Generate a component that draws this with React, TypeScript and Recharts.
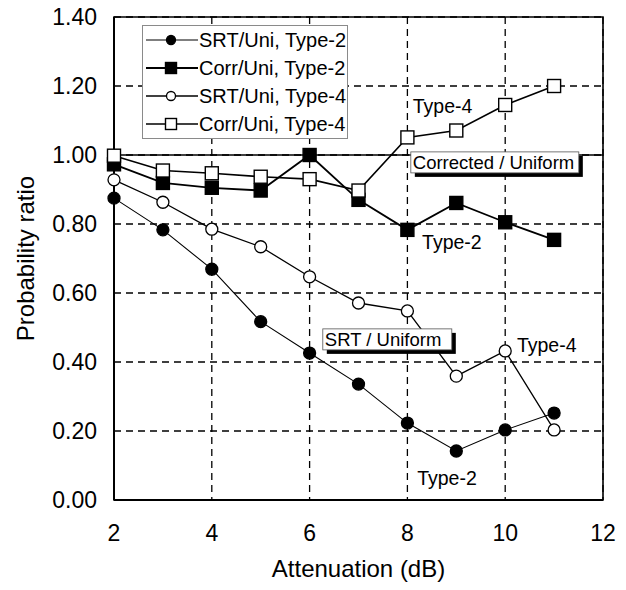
import { LineChart, Line, XAxis, YAxis, CartesianGrid, ReferenceLine, ReferenceArea, ReferenceDot, Legend } from 'recharts';

// values
const attenuation = [2, 3, 4, 5, 6, 7, 8, 9, 10, 11];
const srtType2 = [0.875, 0.783, 0.669, 0.517, 0.426, 0.336, 0.223, 0.142, 0.203, 0.252];
const corrType2 = [0.973, 0.919, 0.905, 0.897, 1.0, 0.87, 0.783, 0.861, 0.805, 0.754];
const srtType4 = [0.928, 0.863, 0.785, 0.734, 0.647, 0.571, 0.548, 0.359, 0.432, 0.203];
const corrType4 = [0.998, 0.955, 0.947, 0.937, 0.93, 0.897, 1.051, 1.071, 1.145, 1.2];

const xTicks = [2, 4, 6, 8, 10, 12];
const yTicks = [0, 0.2, 0.4, 0.6, 0.8, 1.0, 1.2, 1.4];

// free text labels, anchored at data coordinates
const noteText = ['Type-4', 'Type-2', 'Type-4', 'Type-2'];
const noteX = [8.11, 8.3, 10.24, 8.2];
const noteY = [1.142, 0.748, 0.449, 0.064];

// boxed labels with drop shadow (anchor = top-left corner)
const boxText = ['Corrected / Uniform', 'SRT / Uniform'];
const boxX = [8.07, 6.27];
const boxY = [1.009, 0.496];
const boxW = [168, 129];

const FONT = '"Liberation Sans", Arial, Helvetica, sans-serif';

const SERIES = [
  { key: 'srt2', name: 'SRT/Uni, Type-2', shape: 'circle', filled: true, width: 1.1 },
  { key: 'corr2', name: 'Corr/Uni, Type-2', shape: 'square', filled: true, width: 1.8 },
  { key: 'srt4', name: 'SRT/Uni, Type-4', shape: 'circle', filled: false, width: 1.3 },
  { key: 'corr4', name: 'Corr/Uni, Type-4', shape: 'square', filled: false, width: 1.6 },
];

const chartData = attenuation.map((x, i) => ({
  x,
  srt2: srtType2[i],
  corr2: corrType2[i],
  srt4: srtType4[i],
  corr4: corrType4[i],
}));

function Marker({ cx, cy, shape, filled, size }: any) {
  const fill = filled ? '#000' : '#fff';
  if (shape === 'circle') {
    return <circle cx={cx} cy={cy} r={size / 2} fill={fill} stroke="#000" strokeWidth={1.3} />;
  }
  return <rect x={cx - size / 2} y={cy - size / 2} width={size} height={size} fill={fill} stroke="#000" strokeWidth={1.4} />;
}

function makeDot(shape: string, filled: boolean) {
  const size = shape === 'circle' ? 12 : 13;
  return (props: any) => {
    const { cx, cy, index } = props;
    if (cx == null || cy == null) return <g key={index} />;
    return (
      <g key={index}>
        <Marker cx={cx} cy={cy} shape={shape} filled={filled} size={size} />
      </g>
    );
  };
}

function renderLegend() {
  return (
    <div
      style={{
        width: 206,
        border: '1px solid #8a8a8a',
        background: '#fff',
        fontFamily: FONT,
        fontSize: 20,
        boxSizing: 'border-box',
      }}
    >
      {SERIES.map((s) => (
        <div key={s.key} style={{ display: 'flex', alignItems: 'center', height: 28 }}>
          <svg width={56} height={28} style={{ flex: 'none' }}>
            <line x1={3} y1={14} x2={55} y2={14} stroke="#000" strokeWidth={s.width} />
            <Marker cx={28} cy={14} shape={s.shape} filled={s.filled} size={s.shape === 'circle' ? 9 : 11} />
          </svg>
          <span style={{ whiteSpace: 'nowrap' }}>{s.name}</span>
        </div>
      ))}
    </div>
  );
}

export default function App() {
  return (
    <div style={{ position: 'absolute', left: 0, top: 0, width: 626, height: 590, background: '#fff' }}>
      <LineChart width={626} height={590} data={chartData} margin={{ top: 17, right: 23, bottom: 10, left: 20 }}>
        <CartesianGrid stroke="#000" strokeWidth={1.3} strokeDasharray="7 5" />
        <XAxis
          dataKey="x"
          type="number"
          domain={[2, 12]}
          ticks={xTicks}
          height={80}
          axisLine={{ stroke: '#000', strokeWidth: 2 }}
          tickLine={false}
          tickSize={8}
          tickMargin={17}
          tick={{ fill: '#000', fontSize: 23, fontFamily: FONT }}
          label={{ value: 'Attenuation (dB)', position: 'insideBottom', offset: 3, fill: '#000', fontSize: 24, fontFamily: FONT }}
        />
        <YAxis
          type="number"
          domain={[0, 1.4]}
          ticks={yTicks}
          width={94}
          axisLine={{ stroke: '#000', strokeWidth: 2 }}
          tickLine={false}
          tickSize={8}
          tickMargin={9}
          tickFormatter={(v: number) => v.toFixed(2)}
          tick={{ fill: '#000', fontSize: 23, fontFamily: FONT }}
          label={{
            value: 'Probability ratio',
            angle: -90,
            position: 'insideLeft',
            offset: 5,
            fill: '#000',
            fontSize: 24,
            fontFamily: FONT,
            style: { textAnchor: 'middle' },
          }}
        />
        <ReferenceArea x1={2} x2={12} y1={0} y2={1.4} fill="none" stroke="#000" strokeWidth={1.6} />
        <ReferenceLine y={1} stroke="#000" strokeWidth={1.6} />
        <Legend
          layout="vertical"
          align="center"
          verticalAlign="middle"
          wrapperStyle={{ left: 142, top: 25 }}
          content={renderLegend}
        />

        {SERIES.map((s) => (
          <Line
            key={s.key}
            dataKey={s.key}
            name={s.name}
            type="linear"
            stroke="#000"
            strokeWidth={s.width}
            dot={makeDot(s.shape, s.filled)}
            activeDot={false}
            isAnimationActive={false}
          />
        ))}

        {boxText.map((t, i) => (
          <ReferenceDot
            key={`box-${i}`}
            x={boxX[i]}
            y={boxY[i]}
            r={0}
            shape={(p: any) => (
              <g>
                <rect x={p.cx + 4} y={p.cy + 4} width={boxW[i]} height={21} fill="#000" />
                <rect x={p.cx} y={p.cy} width={boxW[i]} height={21} fill="#fff" stroke="#555" strokeWidth={0.8} />
                <text x={p.cx + 2} y={p.cy + 17} fontFamily={FONT} fontSize={18.5} fill="#000">
                  {t}
                </text>
              </g>
            )}
          />
        ))}

        {noteText.map((t, i) => (
          <ReferenceDot
            key={`note-${i}`}
            x={noteX[i]}
            y={noteY[i]}
            r={0}
            shape={(p: any) => (
              <text x={p.cx} y={p.cy} dominantBaseline="central" fontFamily={FONT} fontSize={19.5} fill="#000">
                {t}
              </text>
            )}
          />
        ))}
      </LineChart>
    </div>
  );
}
